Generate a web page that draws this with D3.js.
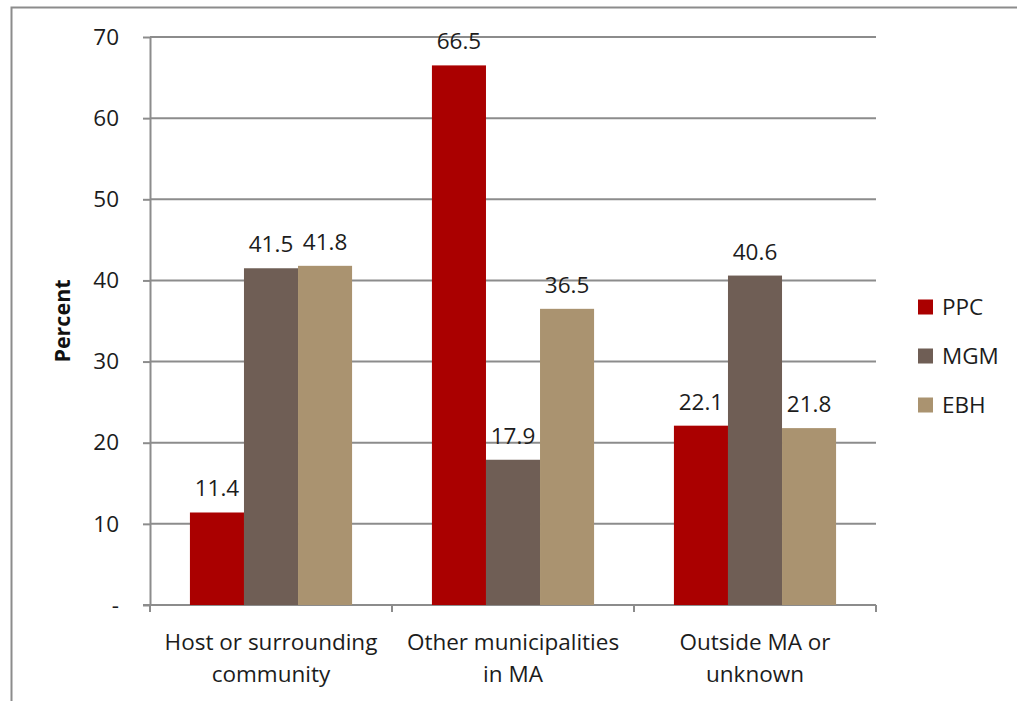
<!DOCTYPE html>
<html><head><meta charset="utf-8">
<script src="https://cdn.jsdelivr.net/npm/d3@7"></script>
<style>body{margin:0;background:#fff}svg{display:block;font-family:"Open Sans",sans-serif}</style>
</head><body>
<svg id="c" width="1017" height="701"></svg>
<script>
const categories = [["Host or surrounding","community"],["Other municipalities","in MA"],["Outside MA or","unknown"]];
const seriesNames = ["PPC","MGM","EBH"];
const ppc = [11.4, 66.5, 22.1];
const mgm = [41.5, 17.9, 40.6];
const ebh = [41.8, 36.5, 21.8];
const colors = ["#AA0000","#6F5E55","#AA9370"];
const yTicks = [0,10,20,30,40,50,60,70];

(function(){
const series = [ppc, mgm, ebh];
const svg = d3.select("#c");
const pLeft=150, pRight=876, pTop=37, pBottom=605;
const fs = 22.5, tc = "#1c1c1c";

svg.append("path").attr("d","M11.5,701 V7.5 H1017").attr("fill","none").attr("stroke","#8c8c8c").attr("stroke-width",2);

const y = d3.scaleLinear().domain([0,70]).range([pBottom,pTop]);
const x0 = d3.scaleBand().domain(d3.range(categories.length)).range([pLeft,pRight]);
const step = x0.bandwidth();
const x1 = d3.scaleBand().domain(d3.range(seriesNames.length)).range([step*0.165, step*0.835]);

svg.append("g").selectAll("line").data(yTicks.filter(d=>d>0)).join("line")
  .attr("x1",pLeft).attr("x2",pRight).attr("y1",d=>y(d)).attr("y2",d=>y(d))
  .attr("stroke","#8c8c8c").attr("stroke-width",2);

const ya = svg.append("g").attr("transform",`translate(${pLeft},0)`)
  .call(d3.axisLeft(y).tickValues(yTicks).tickSize(7).tickSizeOuter(0).tickFormat(d=>d===0?"-":d));
ya.select(".domain").attr("stroke","#8c8c8c").attr("stroke-width",2);
ya.selectAll(".tick line").attr("stroke","#8c8c8c").attr("stroke-width",2);
ya.selectAll(".tick text").attr("font-size",fs).attr("fill",tc).attr("x",-31).attr("font-family","Open Sans");

const xa = svg.append("g").attr("transform",`translate(0,${pBottom})`);
xa.append("line").attr("x1",pLeft-7).attr("x2",pRight).attr("stroke","#8c8c8c").attr("stroke-width",2);
xa.selectAll("line.t").data(d3.range(categories.length+1)).join("line").attr("class","t")
  .attr("x1",d=>pLeft+d*step).attr("x2",d=>pLeft+d*step).attr("y1",0).attr("y2",7)
  .attr("stroke","#8c8c8c").attr("stroke-width",2);

categories.forEach((c,i)=>{
  const g = svg.append("g").attr("transform",`translate(${x0(i)},0)`);
  series.forEach((s,j)=>{
    g.append("rect").attr("x",x1(j)).attr("width",x1.bandwidth()).attr("y",y(s[i])).attr("height",pBottom-y(s[i])).attr("fill",colors[j]);
    g.append("text").attr("x",x1(j)+x1.bandwidth()/2).attr("y",y(s[i])-16).attr("text-anchor","middle")
      .attr("font-size",fs).attr("fill",tc).text(s[i].toFixed(1));
  });
  const t = svg.append("text").attr("text-anchor","middle").attr("font-size",fs).attr("fill",tc);
  c.forEach((line,k)=>t.append("tspan").attr("x",x0(i)+step/2).attr("y",650+k*32).text(line));
});

svg.append("text").attr("transform",`translate(70,${(pTop+pBottom)/2}) rotate(-90)`).attr("text-anchor","middle")
  .attr("font-size",21.5).attr("font-weight","bold").attr("fill","#111").text("Percent");

const lg = svg.append("g").selectAll("g").data(seriesNames).join("g")
  .attr("transform",(d,i)=>`translate(918,${307+i*49})`);
lg.append("rect").attr("y",-7.5).attr("width",15).attr("height",15).attr("fill",(d,i)=>colors[i]);
lg.append("text").attr("x",24).attr("y",8).attr("font-size",fs).attr("fill",tc).text(d=>d);
})();
</script>
</body></html>
